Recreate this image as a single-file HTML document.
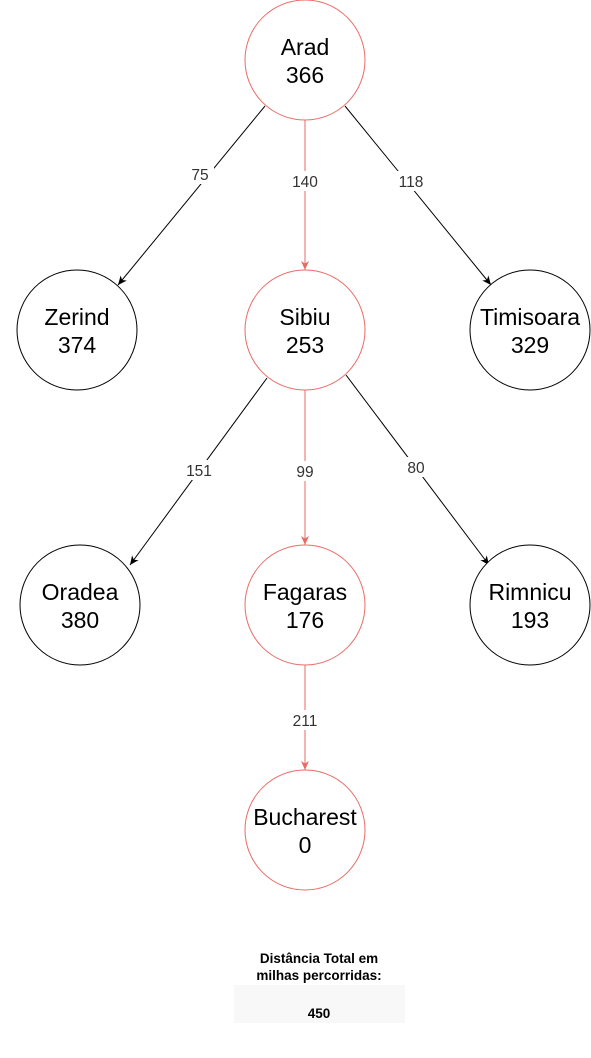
<!DOCTYPE html>
<html><head><meta charset="utf-8"><style>
html,body{margin:0;padding:0;background:#fff;}
svg{display:block;}
text{font-family:"Liberation Sans",Arial,sans-serif;}
</style></head><body>
<svg width="591" height="1058" viewBox="0 0 591 1058" xmlns="http://www.w3.org/2000/svg">
<defs>
<marker id="ab" markerWidth="10" markerHeight="10" refX="9" refY="5" orient="auto" markerUnits="userSpaceOnUse"><path d="M0,1 L9,5 L0,9 L2.5,5 Z" fill="#000"/></marker>
<marker id="ar" markerWidth="10" markerHeight="10" refX="9" refY="5" orient="auto" markerUnits="userSpaceOnUse"><path d="M0,1 L9,5 L0,9 L2.5,5 Z" fill="#ea6b66"/></marker>
</defs>
<g stroke-width="1" fill="none">
<line x1="265" y1="106" x2="118" y2="285" stroke="#000" marker-end="url(#ab)"/>
<line x1="305" y1="120" x2="305" y2="270" stroke="#ea6b66" marker-end="url(#ar)"/>
<line x1="345" y1="106" x2="491" y2="285" stroke="#000" marker-end="url(#ab)"/>
<line x1="267" y1="378" x2="130" y2="565" stroke="#000" marker-end="url(#ab)"/>
<line x1="305" y1="390" x2="305" y2="545" stroke="#ea6b66" marker-end="url(#ar)"/>
<line x1="346" y1="375" x2="489" y2="565" stroke="#000" marker-end="url(#ab)"/>
<line x1="305" y1="665" x2="305" y2="770" stroke="#ea6b66" marker-end="url(#ar)"/>
</g>
<g font-size="15.5" fill="#333" text-anchor="middle">
<rect x="186" y="164" width="28" height="20" fill="#fff"/><text x="200" y="180">75</text>
<rect x="288" y="171" width="34" height="20" fill="#fff"/><text x="305" y="187">140</text>
<rect x="394" y="171" width="34" height="20" fill="#fff"/><text x="411" y="187">118</text>
<rect x="182" y="460" width="34" height="20" fill="#fff"/><text x="199" y="476">151</text>
<rect x="291" y="461" width="28" height="20" fill="#fff"/><text x="305" y="477">99</text>
<rect x="402" y="457" width="28" height="20" fill="#fff"/><text x="416" y="473">80</text>
<rect x="288" y="710" width="34" height="20" fill="#fff"/><text x="305" y="726">211</text>
</g>
<g fill="#fff" stroke-width="1">
<circle cx="305" cy="60" r="60" stroke="#ea6b66"/>
<circle cx="77" cy="330" r="60" stroke="#000"/>
<circle cx="305" cy="330" r="60" stroke="#ea6b66"/>
<circle cx="530" cy="330" r="60" stroke="#000"/>
<circle cx="80" cy="605" r="60" stroke="#000"/>
<circle cx="305" cy="605" r="60" stroke="#ea6b66"/>
<circle cx="530" cy="605" r="60" stroke="#000"/>
<circle cx="305" cy="830" r="60" stroke="#ea6b66"/>
</g>
<g font-size="23" fill="#000" text-anchor="middle">
<text x="305" y="55">Arad</text><text x="305" y="83">366</text>
<text x="77" y="325">Zerind</text><text x="77" y="353">374</text>
<text x="305" y="325">Sibiu</text><text x="305" y="353">253</text>
<text x="530" y="325">Timisoara</text><text x="530" y="353">329</text>
<text x="80" y="600">Oradea</text><text x="80" y="628">380</text>
<text x="305" y="600">Fagaras</text><text x="305" y="628">176</text>
<text x="530" y="600">Rimnicu</text><text x="530" y="628">193</text>
<text x="305" y="825">Bucharest</text><text x="305" y="853">0</text>
</g>
<rect x="234" y="985" width="171" height="38" fill="#f8f8f8"/>
<g font-size="13.5" font-weight="bold" fill="#000" text-anchor="middle">
<text x="319" y="963">Distância Total em</text>
<text x="319" y="980">milhas percorridas:</text>
<text x="319" y="1018">450</text>
</g>
</svg>
</body></html>
